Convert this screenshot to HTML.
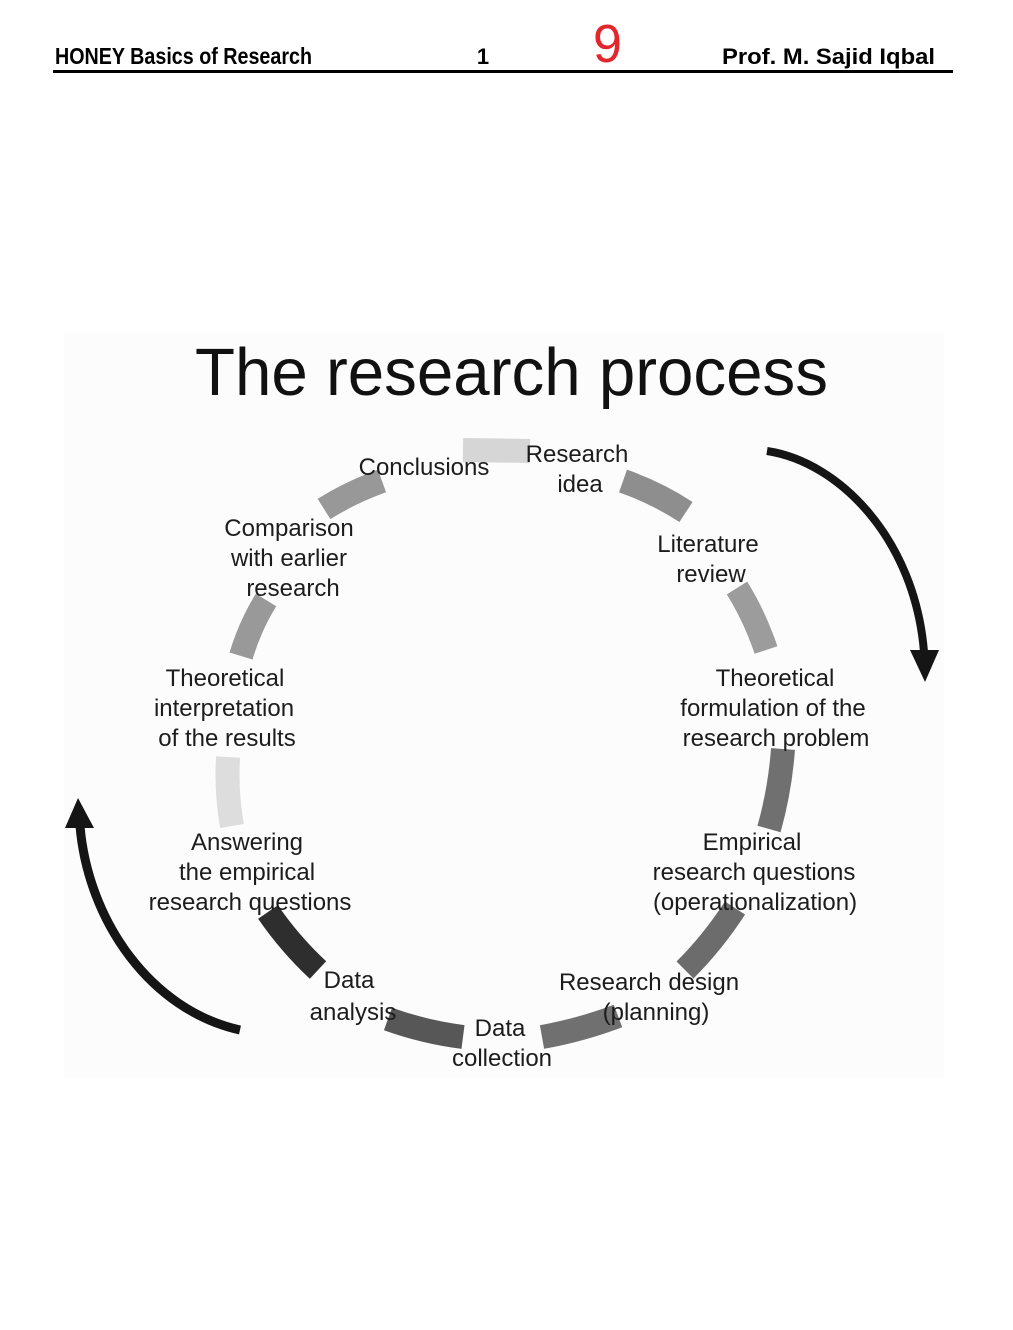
<!DOCTYPE html>
<html>
<head>
<meta charset="utf-8">
<style>
  html,body{margin:0;padding:0;background:#ffffff;}
  svg{display:block;}
  .lbl{font-family:"Liberation Sans",Arial,sans-serif;font-size:24px;fill:#1c1c1c;text-anchor:middle;}
</style>
</head>
<body>
<svg width="1013" height="1330" viewBox="0 0 1013 1330" xmlns="http://www.w3.org/2000/svg">
  <rect x="0" y="0" width="1013" height="1330" fill="#ffffff"/>

  <!-- Header -->
  <text x="55" y="64" font-family="Liberation Sans, Arial, sans-serif" font-weight="bold" font-size="23" fill="#000" textLength="257" lengthAdjust="spacingAndGlyphs">HONEY Basics of Research</text>
  <text x="483" y="64" font-family="Liberation Sans, Arial, sans-serif" font-weight="bold" font-size="22" fill="#000" text-anchor="middle">1</text>
  <text x="593" y="62" font-family="Liberation Sans, Arial, sans-serif" font-size="54" fill="#e3262b" textLength="29" lengthAdjust="spacingAndGlyphs">9</text>
  <text x="722" y="64" font-family="Liberation Sans, Arial, sans-serif" font-weight="bold" font-size="22" fill="#000" textLength="213" lengthAdjust="spacingAndGlyphs">Prof. M. Sajid Iqbal</text>
  <rect x="53" y="70" width="900" height="3" fill="#000"/>

  <!-- Picture area -->
  <rect x="64" y="332" width="880" height="746" fill="#fcfcfc"/>

  <!-- Title -->
  <text x="195" y="395" font-family="Liberation Sans, Arial, sans-serif" font-size="67" fill="#111" textLength="633" lengthAdjust="spacingAndGlyphs">The research process</text>

  <!-- Circle segments -->
  <g fill="none" stroke-width="24" stroke-linecap="butt">
    <path d="M463,450 L530,451" stroke="#d6d6d6"/>
    <path d="M623,481 Q657,493 686,512" stroke="#8e8e8e"/>
    <path d="M737,588 Q755,617 766,650" stroke="#9c9c9c"/>
    <path d="M783,749 Q780,790 769,829" stroke="#707070"/>
    <path d="M735,908 Q713,942 685,970" stroke="#6c6c6c"/>
    <path d="M618,1016 Q581,1030 542,1037" stroke="#707070"/>
    <path d="M463,1037 Q424,1032 388,1019" stroke="#575757"/>
    <path d="M318,970 Q290,944 268,912" stroke="#2e2e2e"/>
    <path d="M232,826 Q226,792 228,757" stroke="#dddddd"/>
    <path d="M241,656 Q250,626 266,600" stroke="#999999"/>
    <path d="M324,509 Q351,492 382,481" stroke="#989898"/>
  </g>

  <!-- Right arrow (clockwise) -->
  <path d="M767,451 C840,462 915,540 924,652" fill="none" stroke="#151515" stroke-width="8"/>
  <polygon points="910,650 939,650 925,682" fill="#151515"/>

  <!-- Left arrow (upwards) -->
  <path d="M240,1030 C150,1010 88,920 80,826" fill="none" stroke="#151515" stroke-width="9"/>
  <polygon points="65,828 94,828 78,798" fill="#151515"/>

  <!-- Labels -->
  <text class="lbl" x="424" y="475">Conclusions</text>

  <text class="lbl" x="577" y="462">Research</text>
  <text class="lbl" x="580" y="492">idea</text>

  <text class="lbl" x="708" y="552">Literature</text>
  <text class="lbl" x="711" y="582">review</text>

  <text class="lbl" x="775" y="686">Theoretical</text>
  <text class="lbl" x="773" y="716">formulation of the</text>
  <text class="lbl" x="776" y="746">research problem</text>

  <text class="lbl" x="752" y="850">Empirical</text>
  <text class="lbl" x="754" y="880">research questions</text>
  <text class="lbl" x="755" y="910">(operationalization)</text>

  <text class="lbl" x="649" y="990">Research design</text>
  <text class="lbl" x="656" y="1020">(planning)</text>

  <text class="lbl" x="500" y="1036">Data</text>
  <text class="lbl" x="502" y="1066">collection</text>

  <text class="lbl" x="349" y="988">Data</text>
  <text class="lbl" x="353" y="1020">analysis</text>

  <text class="lbl" x="247" y="850">Answering</text>
  <text class="lbl" x="247" y="880">the empirical</text>
  <text class="lbl" x="250" y="910">research questions</text>

  <text class="lbl" x="225" y="686">Theoretical</text>
  <text class="lbl" x="224" y="716">interpretation</text>
  <text class="lbl" x="227" y="746">of the results</text>

  <text class="lbl" x="289" y="536">Comparison</text>
  <text class="lbl" x="289" y="566">with earlier</text>
  <text class="lbl" x="293" y="596">research</text>
</svg>
</body>
</html>
